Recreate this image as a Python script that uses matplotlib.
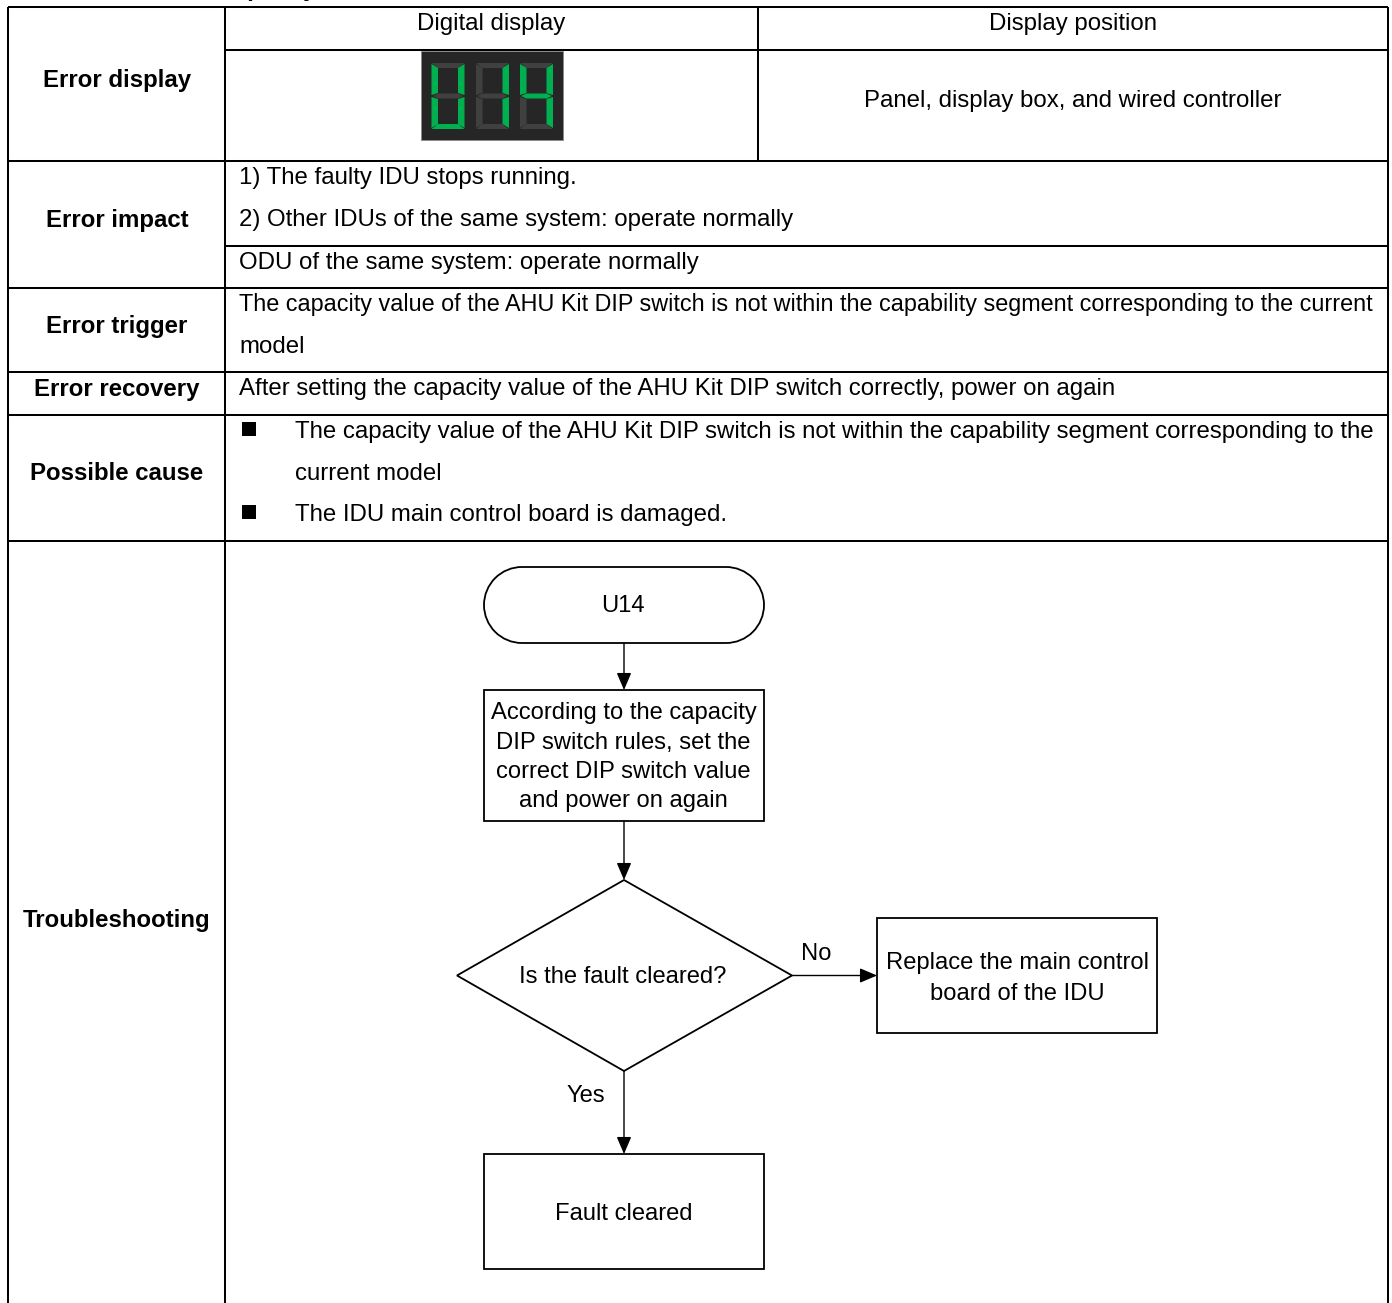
import matplotlib
matplotlib.use('Agg')
import matplotlib.pyplot as plt
from matplotlib.patches import Polygon, Rectangle, Arc

plt.rcParams['font.family'] = ['Liberation Sans', 'DejaVu Sans']
FS = 17.3
FLOW_FS = 17.1

row_labels = ['Error display', 'Error impact', 'Error trigger', 'Error recovery', 'Possible cause', 'Troubleshooting']
row_label_y = [77.5, 218.5, 323.5, 387, 471.5, 917.5]
body_lines = [
    '1) The faulty IDU stops running.',
    '2) Other IDUs of the same system: operate normally',
    'ODU of the same system: operate normally',
    'The capacity value of the AHU Kit DIP switch is not within the capability segment corresponding to the current',
    'model',
    'After setting the capacity value of the AHU Kit DIP switch correctly, power on again',
]
body_y = [175.5, 217.5, 261, 302.5, 344.5, 387]
body_fs = [17.3, 17.3, 17.3, 16.85, 17.3, 17.3]
cause_lines = [
    'The capacity value of the AHU Kit DIP switch is not within the capability segment corresponding to the',
    'current model',
    'The IDU main control board is damaged.',
]
cause_y = [429.5, 472, 513]
bullet_y = [429, 512]
# segments lit per digit: top, upper left, upper right, middle, lower left, lower right, bottom
digit_lit = [
    [0, 1, 1, 0, 1, 1, 1],
    [0, 0, 1, 0, 0, 1, 0],
    [0, 1, 1, 1, 0, 1, 0],
]
digit_x = [431.5, 476, 520]

fig = plt.figure(figsize=(13.92, 13.03), dpi=100)
ax = fig.add_axes([0, 0, 1, 1])
ax.set_xlim(0, 1392)
ax.set_ylim(1303, 0)
ax.axis('off')


def line(x0, y0, x1, y1, lw=1.45):
    ax.plot([x0, x1], [y0, y1], color='black', lw=lw, solid_capstyle='butt', zorder=2)


def text(x, y, s, ha='center', fs=FS, **kw):
    ax.text(x, y, s, ha=ha, va='center_baseline', fontsize=fs, color='black', **kw)


def arrow(x0, y0, x1, y1):
    ax.annotate('', xy=(x1, y1), xytext=(x0, y0),
                arrowprops=dict(arrowstyle='-|>,head_length=0.75,head_width=0.32', color='black',
                                lw=1.0, shrinkA=0, shrinkB=0, mutation_scale=14), zorder=3)


def box(x0, y0, x1, y1):
    ax.add_patch(Rectangle((x0, y0), x1 - x0, y1 - y0, fc='white', ec='black', lw=1.3, zorder=2))


# table grid
line(8, 7, 1388, 7)
for y in [161, 288, 372, 415, 541]:
    line(8, y, 1388, y)
line(225, 50, 1388, 50)
line(225, 246, 1388, 246)
line(8, 7, 8, 1303)
line(225, 7, 225, 1303)
line(1388, 7, 1388, 1303)
line(758, 7, 758, 161)

# heading above the table, only the descenders are on the page
ax.text(170, -4, 'U14 capacity', ha='left', va='baseline', fontsize=FS, fontweight='bold', clip_on=True)

for s, y in zip(row_labels, row_label_y):
    text(117, y, s, fontweight='bold')
text(491, 21.5, 'Digital display')
text(1073, 21.5, 'Display position')
text(1073, 99, 'Panel, display box, and wired controller')
for s, y, fs in zip(body_lines, body_y, body_fs):
    text(239, y, s, ha='left', fs=fs)
for s, y in zip(cause_lines, cause_y):
    text(295, y, s, ha='left')
ax.plot([249] * len(bullet_y), bullet_y, 's', color='black', ms=10.5, mew=0, zorder=3)

# seven segment display
ax.add_patch(Rectangle((421, 51), 142, 89, fc='#262626', ec='#8a8a8a', lw=0.6, zorder=2))
GREEN = '#00b050'
GREY = '#404040'
W, H, TV, TH = 33, 66, 6.5, 5
TOP = 63
for dx, lit in zip(digit_x, digit_lit):
    mid = TOP + H / 2
    segs = [
        [(dx, TOP), (dx + W, TOP), (dx + W - TV, TOP + TH), (dx + TV, TOP + TH)],
        [(dx, TOP + 1), (dx + TV, TOP + TH), (dx + TV, mid - 3), (dx, mid - 1)],
        [(dx + W, TOP + 1), (dx + W - TV, TOP + TH), (dx + W - TV, mid - 3), (dx + W, mid - 1)],
        [(dx + 1, mid), (dx + TV, mid - 2.5), (dx + W - TV, mid - 2.5), (dx + W - 1, mid), (dx + W - TV, mid + 2.5), (dx + TV, mid + 2.5)],
        [(dx, mid + 1), (dx + TV, mid + 3), (dx + TV, TOP + H - TH), (dx, TOP + H - 1)],
        [(dx + W, mid + 1), (dx + W - TV, mid + 3), (dx + W - TV, TOP + H - TH), (dx + W, TOP + H - 1)],
        [(dx, TOP + H), (dx + W, TOP + H), (dx + W - TV, TOP + H - TH), (dx + TV, TOP + H - TH)],
    ]
    for pts, on in zip(segs, lit):
        ax.add_patch(Polygon(pts, closed=True, fc=GREEN if on else GREY, ec='none', zorder=3))

# flowchart
ax.add_patch(Arc((522, 605), 76, 76, theta1=90, theta2=270, ec='black', lw=1.3, zorder=2))
ax.add_patch(Arc((726, 605), 76, 76, theta1=270, theta2=450, ec='black', lw=1.3, zorder=2))
line(522, 567, 726, 567, lw=1.3)
line(522, 643, 726, 643, lw=1.3)
text(623, 604, 'U14', fs=FLOW_FS)
arrow(624, 643, 624, 690)
box(484, 690, 764, 821)
for s, y in zip(['According to the capacity', 'DIP switch rules, set the', 'correct DIP switch value', 'and power on again'],
                [711, 740, 769, 798]):
    text(623.5, y, s, fs=FLOW_FS)
arrow(624, 821, 624, 880)
ax.add_patch(Polygon([(624, 880), (792, 975.5), (624, 1071), (457, 975.5)], closed=True, fc='white', ec='black', lw=1.3, zorder=2))
text(623, 974.5, 'Is the fault cleared?', fs=FLOW_FS)
arrow(792, 975.5, 877, 975.5)
text(816, 952, 'No', fs=FLOW_FS)
box(877, 918, 1157, 1033)
text(1018, 960, 'Replace the main control', fs=FLOW_FS)
text(1017, 992, 'board of the IDU', fs=FLOW_FS)
arrow(624, 1071, 624, 1154)
text(586, 1094, 'Yes', fs=FLOW_FS)
box(484, 1154, 764, 1269)
text(623.5, 1212, 'Fault cleared', fs=FLOW_FS)

fig.savefig('out.png', dpi=100)
